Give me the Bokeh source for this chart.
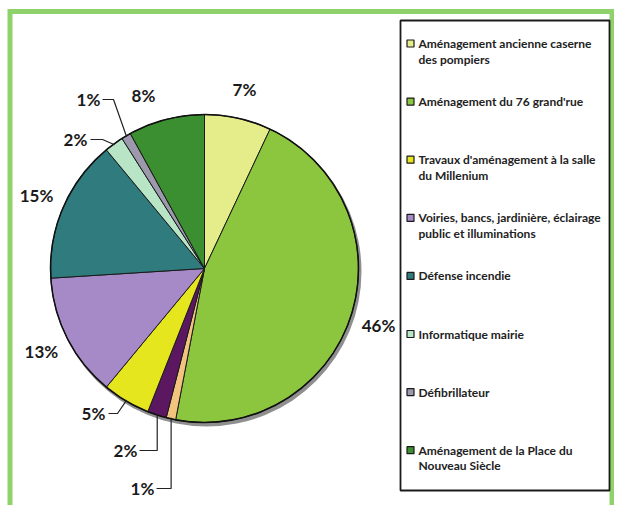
import math
from bokeh.plotting import figure
from bokeh.models import Range1d
from bokeh.embed import file_html
from bokeh.resources import INLINE
from bokeh.core.properties import value

# ---------------- data ----------------
categories = [
    "Aménagement ancienne caserne des pompiers",
    "Aménagement du 76 grand'rue",
    "(non légendé)",
    "(non légendé)",
    "Travaux d'aménagement à la salle du Millenium",
    "Voiries, bancs, jardinière, éclairage public et illuminations",
    "Défense incendie",
    "Informatique mairie",
    "Défibrillateur",
    "Aménagement de la Place du Nouveau Siècle",
]
percent = [7, 46, 1, 2, 5, 13, 15, 2, 1, 8]
slice_colors = ["#e5ec8a", "#8cc63e", "#f2c47e", "#5b1860", "#e6e61e",
                "#a68ac8", "#2f7b7d", "#b8e5c6", "#9b99ab", "#3b8f31"]
in_legend = [True, True, False, False, True, True, True, True, True, True]
legend_lines = [
    ["Aménagement ancienne caserne", "des pompiers"],
    ["Aménagement du 76 grand'rue"],
    ["Travaux d'aménagement à la salle", "du Millenium"],
    ["Voiries, bancs, jardinière, éclairage", "public et illuminations"],
    ["Défense incendie"],
    ["Informatique mairie"],
    ["Défibrillateur"],
    ["Aménagement de la Place du", "Nouveau Siècle"],
]

# ---------------- layout ----------------
W, H = 614, 505
def X(sx):  # picture x -> data x
    return sx
def Y(sy):  # picture y -> data y
    return H - sy

CX, CY, R = X(204), Y(268), 154
FONT = "Lato"

p = figure(width=W, height=H, output_backend="svg", toolbar_location=None,
           x_range=Range1d(0, W), y_range=Range1d(0, H), min_border=0,
           background_fill_color="white", border_fill_color="white")
p.axis.visible = False
p.grid.visible = False
p.outline_line_color = None

# green frame (left, top, right)
p.line([X(9.5), X(9.5), X(611.5), X(611.5)], [Y(530), Y(11), Y(11), Y(530)],
       line_color="#8fd16b", line_width=5, line_join="miter")

# pie shadow
p.circle(x=CX + 2, y=CY - 3, radius=R + 1, fill_color="#333333",
         fill_alpha=0.55, line_color=None)

# wedges
total = float(sum(percent))
cum = 0.0
starts, ends, mids = [], [], []
for v in percent:
    c0 = cum / total
    cum += v
    c1 = cum / total
    starts.append(math.pi / 2 - 2 * math.pi * c0)
    ends.append(math.pi / 2 - 2 * math.pi * c1)
    mids.append(math.pi / 2 - 2 * math.pi * (c0 + c1) / 2)

p.wedge(x=CX, y=CY, radius=R, start_angle=starts, end_angle=ends,
        direction="clock", fill_color=slice_colors, line_color="#1a1a1a",
        line_width=1)
p.circle(x=CX, y=CY, radius=R, fill_color=None, line_color="#111111",
         line_width=1.5)

labels = [f"{v}%" for v in percent]

# label placement: radial by default; some with leader lines (picture coords)
overrides = {9: (143, 95)}
leaders = {
    8: ((88, 99), [(102, 99), (113, 99)]),
    7: ((75, 139), [(90, 139), (102, 139)]),
    4: ((93, 413), [(108, 413), (117, 413)]),
    3: ((125, 450), [(139, 450), None]),
    2: ((142, 488), [(156, 488), None]),
}
LR = 183
lx, ly = [], []
for i, m in enumerate(mids):
    if i in leaders:
        (sx, sy), pts = leaders[i]
        lx.append(X(sx)); ly.append(Y(sy))
        rx = CX + (R - 1) * math.cos(m)
        ry = CY + (R - 1) * math.sin(m)
        xs, ys = [X(pts[0][0])], [Y(pts[0][1])]
        if pts[1] is None:
            xs.append(rx); ys.append(Y(pts[0][1]))
        else:
            xs.append(X(pts[1][0])); ys.append(Y(pts[1][1]))
        xs.append(rx); ys.append(ry)
        p.line(xs, ys, line_color="#222222", line_width=1.2)
    elif i in overrides:
        sx, sy = overrides[i]
        lx.append(X(sx)); ly.append(Y(sy))
    else:
        lx.append(CX + LR * math.cos(m)); ly.append(CY + LR * math.sin(m))

p.text(x=lx, y=ly, text=labels, text_font=value(FONT), text_font_style="bold",
       text_font_size="17px", text_color="#1a1a1a", text_align="center",
       text_baseline="middle")

# legend box
p.quad(left=X(400), right=X(609), top=Y(20), bottom=Y(490),
       fill_color="white", line_color="#1a1a1a", line_width=1.8)

legend_colors = [c for c, k in zip(slice_colors, in_legend) if k]
ty, tx, tt = [], [], []
mx, my = [], []
for j, lines in enumerate(legend_lines):
    y0 = 43 + 58.1 * j
    mx.append(X(410)); my.append(Y(y0))
    for k, t in enumerate(lines):
        tx.append(X(418)); ty.append(Y(y0 + 15.5 * k)); tt.append(t)
p.rect(x=mx, y=my, width=7, height=7, width_units="screen",
       height_units="screen", fill_color=legend_colors, line_color="#1a1a1a",
       line_width=1.2)
p.text(x=tx, y=ty, text=tt, text_font=value(FONT), text_font_style="bold",
       text_font_size="12px", text_color="#222222", text_align="left",
       text_baseline="middle")

open("out.html", "w").write(file_html(p, INLINE))
